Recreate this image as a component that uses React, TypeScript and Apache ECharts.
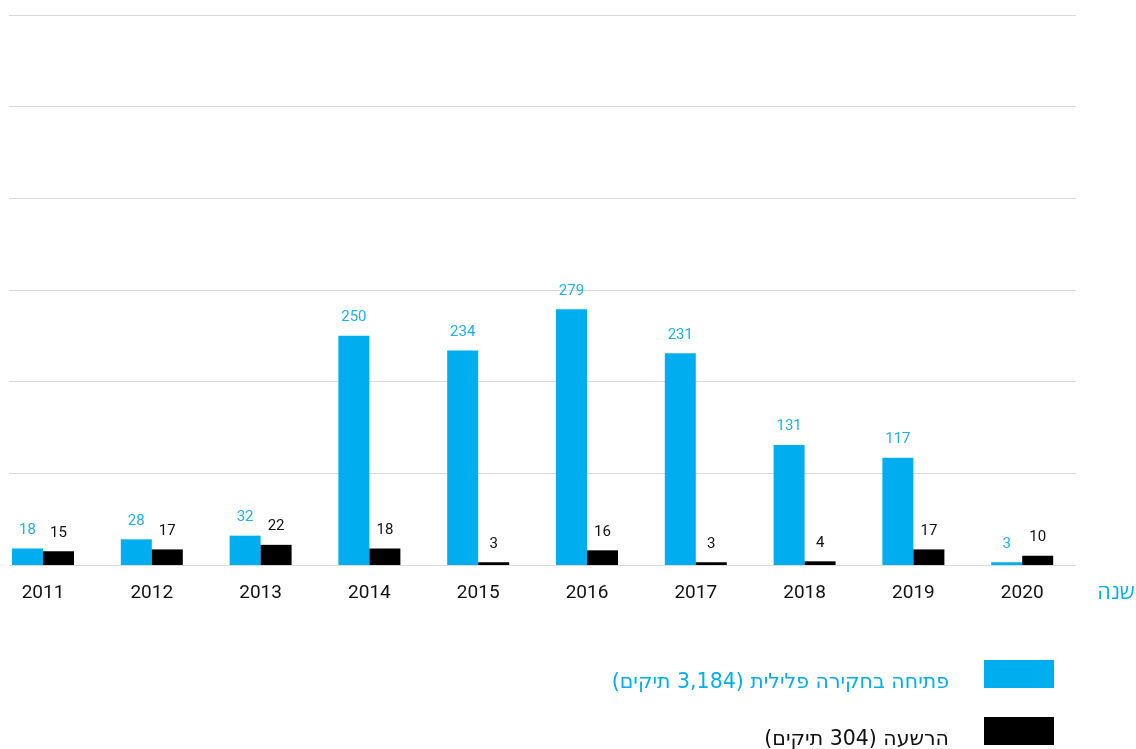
import React, { useEffect, useRef } from "react";
import * as echarts from "echarts";

const years = ["2011", "2012", "2013", "2014", "2015", "2016", "2017", "2018", "2019", "2020"];
const investigations = [18, 28, 32, 250, 234, 279, 231, 131, 117, 3];
const convictions = [15, 17, 22, 18, 3, 16, 3, 4, 17, 10];
const investigationsName = "פתיחה בחקירה פלילית (3,184 תיקים)";
const convictionsName = "הרשעה (304 תיקים)";
const axisName = "שנה";

const BLUE = "#00aeef";
const BLACK = "#000000";
const FONT = "Roboto, 'Open Sans', 'DejaVu Sans', sans-serif";
const LEGEND_FONT = "'DejaVu Sans', sans-serif";

function measure(text: string, size: number, family: string): number {
  const c = document.createElement("canvas").getContext("2d");
  if (!c) return 0;
  c.font = `${size}px ${family}`;
  return c.measureText(text).width;
}

export default function App() {
  const ref = useRef<HTMLDivElement>(null);
  useEffect(() => {
    if (!ref.current) return;
    const chart = echarts.init(ref.current, undefined, { renderer: "svg" });
    const legendSize = 20.5;
    const w1 = measure(investigationsName, legendSize, LEGEND_FONT);
    const w2 = measure(convictionsName, legendSize, LEGEND_FONT);
    const rightEdge = 949;
    chart.setOption({
      animation: false,
      grid: [
        { left: 9, right: 60, top: 15, bottom: 184, outerBoundsMode: "none" },
        { left: -11.4, right: 59.4, top: 15, bottom: 184, outerBoundsMode: "none" },
      ],
      xAxis: [
        { type: "category", gridIndex: 0, data: years, show: false },
        {
          type: "category",
          gridIndex: 1,
          data: years,
          axisLine: { show: false },
          axisTick: { show: false },
          axisLabel: {
            margin: 17,
            fontSize: 19,
            lineHeight: 19,
            color: "#111",
            fontFamily: FONT,
          },
        },
      ],
      yAxis: [
        {
          type: "value",
          gridIndex: 0,
          min: 0,
          max: 600,
          interval: 100,
          axisLabel: { show: false },
          axisLine: { show: false },
          axisTick: { show: false },
          splitLine: { lineStyle: { color: "#dadada", width: 1 } },
        },
        {
          type: "value",
          gridIndex: 1,
          min: 0,
          max: 600,
          interval: 100,
          show: false,
          splitLine: { show: false },
        },
      ],
      series: [
        {
          type: "bar",
          xAxisIndex: 1,
          yAxisIndex: 1,
          data: investigations,
          barWidth: 31,
          barGap: "0%",
          itemStyle: { color: BLUE },
          label: {
            show: true,
            position: "top",
            distance: 12,
            fontSize: 15,
            color: "#1fb0ea",
            fontFamily: FONT,
          },
        },
        {
          type: "bar",
          xAxisIndex: 1,
          yAxisIndex: 1,
          data: convictions,
          barWidth: 31,
          barGap: "0%",
          itemStyle: { color: BLACK },
          label: {
            show: true,
            position: "top",
            distance: 12,
            fontSize: 15,
            color: "#111",
            fontFamily: FONT,
          },
        },
      ],
      graphic: [
        {
          type: "text",
          x: 1116,
          y: 592,
          style: {
            text: axisName,
            fill: BLUE,
            fontSize: 21,
            fontFamily: FONT,
            textAlign: "center",
            textVerticalAlign: "middle",
          },
        },
        { type: "rect", shape: { x: 984, y: 660, width: 70, height: 28 }, style: { fill: BLUE } },
        { type: "rect", shape: { x: 984, y: 717, width: 70, height: 28 }, style: { fill: BLACK } },
        {
          type: "text",
          x: rightEdge - w1 / 2,
          y: 681,
          style: {
            text: investigationsName,
            fill: BLUE,
            fontSize: legendSize,
            fontFamily: LEGEND_FONT,
            textAlign: "center",
            textVerticalAlign: "middle",
          },
        },
        {
          type: "text",
          x: rightEdge - w2 / 2,
          y: 738,
          style: {
            text: convictionsName,
            fill: "#111",
            fontSize: legendSize,
            fontFamily: LEGEND_FONT,
            textAlign: "center",
            textVerticalAlign: "middle",
          },
        },
      ],
    });
    return () => chart.dispose();
  }, []);
  return (
    <div
      ref={ref}
      style={{ position: "fixed", left: 0, top: 0, width: 1136, height: 749, direction: "rtl" }}
    />
  );
}
